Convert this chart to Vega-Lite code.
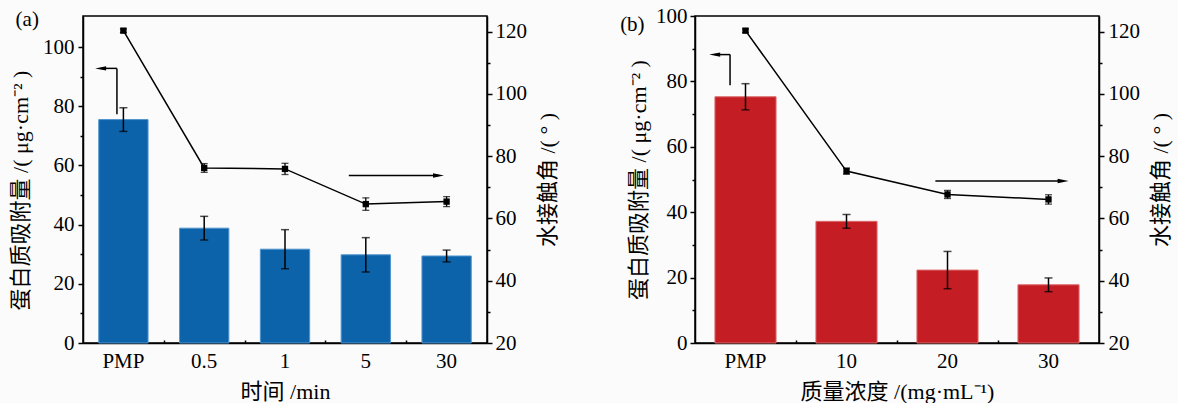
{
  "$schema": "https://vega.github.io/schema/vega-lite/v6.json",
  "background": "#fbfbfb",
  "padding": {"left": 8, "top": 4, "right": 5, "bottom": 0},
  "spacing": 59,
  "config": {
    "font": "Liberation Serif",
    "view": {"stroke": "black", "strokeWidth": 1.5},
    "axis": {
      "labelFont": "Liberation Serif", "labelFontSize": 21, "labelColor": "black",
      "titleFont": "Liberation Serif, Noto Sans CJK SC", "titleFontSize": 22, "titleFontWeight": "normal", "titleColor": "black",
      "domainColor": "black", "domainWidth": 1.5, "tickColor": "black", "tickWidth": 1.5, "grid": false
    }
  },
  "datasets": {
    "barsA": [
      {"cat": "PMP", "val": 75.5, "err": 4.0},
      {"cat": "0.5", "val": 38.8, "err": 4.0},
      {"cat": "1", "val": 31.7, "err": 6.6},
      {"cat": "5", "val": 29.8, "err": 5.8},
      {"cat": "30", "val": 29.4, "err": 2.0}
    ],
    "lineA": [
      {"cat": "PMP", "val": 120.3, "err": 0.6},
      {"cat": "0.5", "val": 76.2, "err": 1.4},
      {"cat": "1", "val": 75.9, "err": 1.8},
      {"cat": "5", "val": 64.6, "err": 2.0},
      {"cat": "30", "val": 65.4, "err": 1.6}
    ],
    "segA": [
      {"x": 0.42, "x2": 0.42, "y": 77.3, "y2": 92.8},
      {"x": 0.42, "x2": 0.22, "y": 92.8, "y2": 92.8}
    ],
    "headA": [{"x": 0.218, "y": 92.8}],
    "labA": [{"x": -0.69, "y": 109.0, "t": "(a)"}],
    "segAR": [{"x": 3.29, "x2": 4.4, "y": 73.8}],
    "headAR": [{"x": 4.40, "y": 73.8}],
    "barsB": [
      {"cat": "PMP", "val": 75.3, "err": 4.0},
      {"cat": "10", "val": 37.2, "err": 2.1},
      {"cat": "20", "val": 22.3, "err": 5.7},
      {"cat": "30", "val": 17.8, "err": 2.1}
    ],
    "lineB": [
      {"cat": "PMP", "val": 120.3, "err": 0.6},
      {"cat": "10", "val": 75.2, "err": 1.0},
      {"cat": "20", "val": 67.7, "err": 1.3},
      {"cat": "30", "val": 66.1, "err": 1.5}
    ],
    "segB": [
      {"x": 0.347, "x2": 0.347, "y": 78.8, "y2": 88.2},
      {"x": 0.347, "x2": 0.2, "y": 88.2, "y2": 88.2}
    ],
    "headB": [{"x": 0.195, "y": 88.2}],
    "labB": [{"x": -0.62, "y": 97.2, "t": "(b)"}],
    "segBR": [{"x": 2.38, "x2": 3.64, "y": 72.0}],
    "headBR": [{"x": 3.645, "y": 72.0}]
  },
  "hconcat": [
    {
      "width": 404, "height": 327,
      "resolve": {"scale": {"x": "independent", "y": "independent"}},
      "layer": [
        {
          "data": {"name": "barsA"},
          "encoding": {
            "x": {"field": "cat", "type": "nominal", "sort": null,
              "scale": {"type": "band", "paddingInner": 0.39, "paddingOuter": 0.195},
              "axis": {"orient": "bottom", "title": "时间 /min", "labelAngle": 0, "tickSize": -5, "labelPadding": 12, "titlePadding": 10}},
            "y": {"field": "val", "type": "quantitative", "scale": {"domain": [0, 110.5], "nice": false},
              "axis": {"orient": "left", "values": [0, 20, 40, 60, 80, 100], "title": "蛋白质吸附量 /( μg·cm⁻² )", "tickSize": 5, "labelPadding": 4, "titlePadding": 10, "titleY": 174}}
          },
          "layer": [
            {"mark": {"type": "bar", "color": "#0d63a9", "stroke": "#4f94cf", "strokeWidth": 1}},
            {"mark": {"type": "errorbar", "ticks": {"size": 8}, "color": "black", "thickness": 1.5},
              "encoding": {"yError": {"field": "err"}}}
          ]
        },
        {
          "data": {"name": "lineA"},
          "encoding": {
            "x": {"field": "cat", "type": "nominal", "sort": null,
              "scale": {"type": "band", "paddingInner": 0.39, "paddingOuter": 0.195}, "axis": null},
            "y": {"field": "val", "type": "quantitative", "scale": {"domain": [20, 125], "nice": false, "zero": false},
              "axis": {"orient": "right", "values": [20, 40, 60, 80, 100, 120], "title": "水接触角 /( ° )", "tickSize": 5, "labelPadding": 3, "titlePadding": 11, "titleAngle": 270, "titleBaseline": "top"}}
          },
          "layer": [
            {"mark": {"type": "line", "color": "black", "strokeWidth": 1.5}},
            {"mark": {"type": "errorbar", "ticks": {"size": 7}, "color": "black", "thickness": 1.3},
              "encoding": {"yError": {"field": "err"}}},
            {"mark": {"type": "point", "shape": "square", "filled": true, "color": "black", "size": 40, "opacity": 1}}
          ]
        },
        {
          "encoding": {
            "x": {"field": "x", "type": "quantitative", "scale": {"domain": [0, 5], "nice": false, "zero": false},
              "axis": {"orient": "bottom", "values": [1, 2, 3, 4], "labels": false, "tickSize": -3, "domain": false, "title": null}},
            "y": {"field": "y", "type": "quantitative", "scale": {"domain": [0, 110.5], "nice": false},
              "axis": {"orient": "left", "values": [10, 30, 50, 70, 90], "labels": false, "tickSize": 3, "domain": false, "title": null}}
          },
          "layer": [
            {"data": {"name": "segA"}, "mark": {"type": "rule", "color": "black", "strokeWidth": 1.5},
              "encoding": {"x2": {"field": "x2"}, "y2": {"field": "y2"}}},
            {"data": {"name": "headA"}, "mark": {"type": "point", "shape": "M-1,0L1,-0.4L1,0.4Z", "filled": true, "color": "black", "size": 121, "opacity": 1}},
            {"data": {"name": "labA"}, "mark": {"type": "text", "font": "Liberation Serif", "fontSize": 21, "color": "black", "baseline": "middle", "align": "center"},
              "encoding": {"text": {"field": "t"}}}
          ]
        },
        {
          "encoding": {
            "x": {"field": "x", "type": "quantitative", "scale": {"domain": [0, 5], "nice": false, "zero": false}, "axis": null},
            "y": {"field": "y", "type": "quantitative", "scale": {"domain": [20, 125], "nice": false, "zero": false},
              "axis": {"orient": "right", "values": [30, 50, 70, 90, 110], "labels": false, "tickSize": 3, "domain": false, "title": null}}
          },
          "layer": [
            {"data": {"name": "segAR"}, "mark": {"type": "rule", "color": "black", "strokeWidth": 1.5},
              "encoding": {"x2": {"field": "x2"}}},
            {"data": {"name": "headAR"}, "mark": {"type": "point", "shape": "M1,0L-1,-0.4L-1,0.4Z", "filled": true, "color": "black", "size": 121, "opacity": 1}}
          ]
        }
      ]
    },
    {
      "width": 404, "height": 327,
      "resolve": {"scale": {"x": "independent", "y": "independent"}},
      "layer": [
        {
          "data": {"name": "barsB"},
          "encoding": {
            "x": {"field": "cat", "type": "nominal", "sort": null,
              "scale": {"type": "band", "paddingInner": 0.395, "paddingOuter": 0.1975},
              "axis": {"orient": "bottom", "title": "质量浓度 /(mg·mL⁻¹)", "labelAngle": 0, "tickSize": -5, "labelPadding": 12, "titlePadding": 10}},
            "y": {"field": "val", "type": "quantitative", "scale": {"domain": [0, 100], "nice": false},
              "axis": {"orient": "left", "values": [0, 20, 40, 60, 80, 100], "title": "蛋白质吸附量 /( μg·cm⁻² )", "tickSize": 5, "labelPadding": 3, "titlePadding": 5}}
          },
          "layer": [
            {"mark": {"type": "bar", "color": "#c41e24", "stroke": "#dc6a6a", "strokeWidth": 1}},
            {"mark": {"type": "errorbar", "ticks": {"size": 8}, "color": "black", "thickness": 1.5},
              "encoding": {"yError": {"field": "err"}}}
          ]
        },
        {
          "data": {"name": "lineB"},
          "encoding": {
            "x": {"field": "cat", "type": "nominal", "sort": null,
              "scale": {"type": "band", "paddingInner": 0.395, "paddingOuter": 0.1975}, "axis": null},
            "y": {"field": "val", "type": "quantitative", "scale": {"domain": [20, 125], "nice": false, "zero": false},
              "axis": {"orient": "right", "values": [20, 40, 60, 80, 100, 120], "title": "水接触角 /( ° )", "tickSize": 5, "labelPadding": 4, "titlePadding": 11, "titleAngle": 270, "titleBaseline": "top"}}
          },
          "layer": [
            {"mark": {"type": "line", "color": "black", "strokeWidth": 1.5}},
            {"mark": {"type": "errorbar", "ticks": {"size": 7}, "color": "black", "thickness": 1.3},
              "encoding": {"yError": {"field": "err"}}},
            {"mark": {"type": "point", "shape": "square", "filled": true, "color": "black", "size": 40, "opacity": 1}}
          ]
        },
        {
          "encoding": {
            "x": {"field": "x", "type": "quantitative", "scale": {"domain": [0, 4], "nice": false, "zero": false},
              "axis": {"orient": "bottom", "values": [1, 2, 3], "labels": false, "tickSize": -3, "domain": false, "title": null}},
            "y": {"field": "y", "type": "quantitative", "scale": {"domain": [0, 100], "nice": false},
              "axis": {"orient": "left", "values": [10, 30, 50, 70, 90], "labels": false, "tickSize": 3, "domain": false, "title": null}}
          },
          "layer": [
            {"data": {"name": "segB"}, "mark": {"type": "rule", "color": "black", "strokeWidth": 1.5},
              "encoding": {"x2": {"field": "x2"}, "y2": {"field": "y2"}}},
            {"data": {"name": "headB"}, "mark": {"type": "point", "shape": "M-1,0L1,-0.4L1,0.4Z", "filled": true, "color": "black", "size": 121, "opacity": 1}},
            {"data": {"name": "labB"}, "mark": {"type": "text", "font": "Liberation Serif", "fontSize": 21, "color": "black", "baseline": "middle", "align": "center"},
              "encoding": {"text": {"field": "t"}}}
          ]
        },
        {
          "encoding": {
            "x": {"field": "x", "type": "quantitative", "scale": {"domain": [0, 4], "nice": false, "zero": false}, "axis": null},
            "y": {"field": "y", "type": "quantitative", "scale": {"domain": [20, 125], "nice": false, "zero": false},
              "axis": {"orient": "right", "values": [30, 50, 70, 90, 110], "labels": false, "tickSize": 3, "domain": false, "title": null}}
          },
          "layer": [
            {"data": {"name": "segBR"}, "mark": {"type": "rule", "color": "black", "strokeWidth": 1.5},
              "encoding": {"x2": {"field": "x2"}}},
            {"data": {"name": "headBR"}, "mark": {"type": "point", "shape": "M1,0L-1,-0.4L-1,0.4Z", "filled": true, "color": "black", "size": 121, "opacity": 1}}
          ]
        }
      ]
    }
  ]
}
